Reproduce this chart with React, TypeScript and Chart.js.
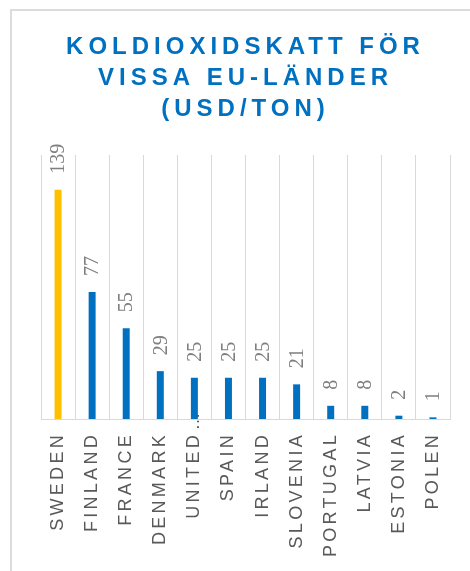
import React, { useEffect, useRef } from 'react';
import { Chart, registerables } from 'chart.js';

Chart.register(...registerables);

const titleLines = ['KOLDIOXIDSKATT FÖR', 'VISSA EU-LÄNDER', '(USD/TON)'];
const categories = [
  'SWEDEN', 'FINLAND', 'FRANCE', 'DENMARK', 'UNITED KINGDOM', 'SPAIN',
  'IRLAND', 'SLOVENIA', 'PORTUGAL', 'LATVIA', 'ESTONIA', 'POLEN',
];
const values = [139, 77, 55, 29, 25, 25, 25, 21, 8, 8, 2, 1];
const highlighted = 'SWEDEN';
const yMax = 160;

const SANS = '"Liberation Sans", Arial, sans-serif';
const SERIF = '"Liberation Serif", "Times New Roman", serif';
const TICK_SPACING = '3.3px';
const TITLE_SPACING = '5px';
const MAX_LABEL_LEN = 10;

const isTruncated = (c: string) => c.length > MAX_LABEL_LEN;
const shortLabel = (c: string) => (isTruncated(c) ? c.split(' ')[0] : c);

const framePlugin = {
  id: 'frame',
  beforeUpdate(chart: any) {
    chart.ctx.letterSpacing = TICK_SPACING;
  },
  beforeDraw(chart: any) {
    const ctx = chart.ctx;
    ctx.letterSpacing = TICK_SPACING;
    const tb = chart.titleBlock;
    if (tb && !tb.__wrapped) {
      const orig = tb.draw.bind(tb);
      tb.draw = (...args: any[]) => {
        ctx.save();
        ctx.letterSpacing = TITLE_SPACING;
        orig(...args);
        ctx.restore();
      };
      tb.__wrapped = true;
    }
    ctx.save();
    ctx.strokeStyle = '#dcdcdc';
    ctx.lineWidth = 2;
    ctx.strokeRect(11, 10, 600, 700);
    ctx.restore();
  },
};

const valueLabelPlugin = {
  id: 'valueLabels',
  afterDatasetsDraw(chart: any) {
    const ctx = chart.ctx;
    const meta = chart.getDatasetMeta(0);
    const data = chart.data.datasets[0].data;
    ctx.save();
    ctx.letterSpacing = '0px';
    ctx.font = `20px ${SERIF}`;
    ctx.fillStyle = '#7f7f7f';
    ctx.textAlign = 'left';
    ctx.textBaseline = 'middle';
    meta.data.forEach((bar: any, i: number) => {
      ctx.save();
      ctx.translate(bar.x + 1, bar.y - 16);
      ctx.rotate(-Math.PI / 2);
      ctx.fillText(String(data[i]), 0, 0);
      ctx.restore();
    });
    ctx.restore();
  },
  afterDraw(chart: any) {
    const ctx = chart.ctx;
    const xs = chart.scales.x;
    ctx.save();
    ctx.letterSpacing = '0px';
    ctx.font = `18px ${SANS}`;
    ctx.fillStyle = '#595959';
    ctx.textAlign = 'center';
    ctx.textBaseline = 'middle';
    categories.forEach((c, i) => {
      if (!isTruncated(c)) return;
      ctx.save();
      ctx.translate(xs.getPixelForValue(i), chart.chartArea.bottom + 2.5);
      ctx.rotate(-Math.PI / 2);
      ctx.fillText('…', 0, 0);
      ctx.restore();
    });
    ctx.restore();
  },
};

export default function App() {
  const ref = useRef<HTMLCanvasElement>(null);
  useEffect(() => {
    document.documentElement.style.overflow = 'hidden';
    document.body.style.overflow = 'hidden';
    const chart = new Chart(ref.current as HTMLCanvasElement, {
      type: 'bar',
      data: {
        labels: categories,
        datasets: [
          {
            data: values,
            backgroundColor: categories.map((c) => (c === highlighted ? '#FFC000' : '#0070C0')),
            barPercentage: 0.205,
            categoryPercentage: 1,
          },
        ],
      },
      options: {
        animation: false,
        responsive: false,
        devicePixelRatio: 1,
        layout: { padding: { left: 41, right: 20, top: 0, bottom: 0 } },
        plugins: {
          legend: { display: false },
          tooltip: { enabled: false },
          title: {
            display: true,
            text: titleLines,
            color: '#0070C0',
            font: { family: SANS, size: 24, weight: 'bold', lineHeight: '31px' },
            padding: { top: 31.5, bottom: 30.5 },
          },
        },
        scales: {
          x: {
            grid: { color: '#d9d9d9', lineWidth: 1, drawTicks: false, offset: true },
            border: { display: true, color: '#d9d9d9', width: 1 },
            ticks: {
              color: '#595959',
              font: { family: SANS, size: 18 },
              minRotation: 90,
              maxRotation: 90,
              autoSkip: false,
              padding: 13,
              callback: (_v: any, i: number) => shortLabel(categories[i]),
            },
            afterFit: (scale: any) => {
              scale.height = 152;
            },
          },
          y: { display: false, min: 0, max: yMax },
        },
      },
      plugins: [framePlugin, valueLabelPlugin],
    } as any);
    return () => chart.destroy();
  }, []);
  return (
    <canvas
      ref={ref}
      width={470}
      height={571}
      style={{ position: 'fixed', left: 0, top: 0, width: '470px', height: '571px' }}
    />
  );
}
